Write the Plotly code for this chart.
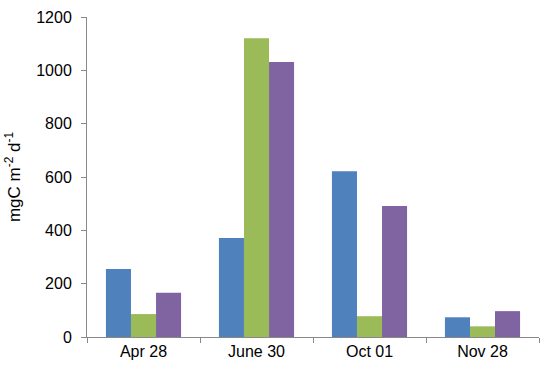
import plotly.graph_objects as go

categories = ["Apr 28", "June 30", "Oct 01", "Nov 28"]
series_a = [255, 371, 622, 74]
series_b = [86, 1120, 78, 40]
series_c = [166, 1031, 491, 97]
y_ticks = [0, 200, 400, 600, 800, 1000, 1200]

colors = ["#4F81BD", "#9BBB59", "#8064A2"]

fig = go.Figure()
for vals, col in zip([series_a, series_b, series_c], colors):
    fig.add_trace(go.Bar(x=categories, y=vals, marker=dict(color=col, line=dict(width=0))))

fig.update_layout(
    width=550, height=375,
    margin=dict(l=87, r=11, t=17, b=38),
    paper_bgcolor="white", plot_bgcolor="white",
    barmode="group", bargap=0.335, bargroupgap=0,
    showlegend=False,
    font=dict(family="Liberation Sans, Arial, sans-serif", size=16, color="#000000"),
)
fig.update_xaxes(
    showline=True, linecolor="#888888", linewidth=1,
    ticks="outside", tickson="boundaries", ticklen=5, tickcolor="#888888",
    showgrid=False, tickfont=dict(size=16), automargin=False,
)
fig.update_yaxes(
    range=[0, 1200], tickvals=y_ticks,
    showline=True, linecolor="#888888", linewidth=1,
    ticks="outside", ticklen=5, tickcolor="#888888",
    showgrid=False, zeroline=False, tickfont=dict(size=16), automargin=False,
    ticklabelstandoff=6,
    title=dict(text="mgC m<sup>-2</sup> d<sup>-1</sup>", font=dict(size=17), standoff=11),
)

fig.write_html(
    "out.html",
    config={"displayModeBar": False},
    post_script="document.body.style.margin='0';document.body.style.padding='0';document.body.style.overflow='hidden';",
)
